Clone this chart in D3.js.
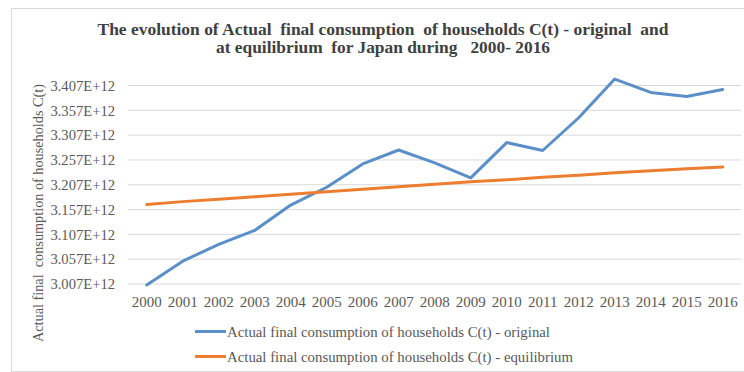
<!DOCTYPE html>
<html><head><meta charset="utf-8">
<script src="https://cdn.jsdelivr.net/npm/d3@7"></script>
<style>body{margin:0;background:#fff}svg{display:block}text{white-space:pre}</style>
</head><body>
<script>
const years = ["2000","2001","2002","2003","2004","2005","2006","2007","2008","2009","2010","2011","2012","2013","2014","2015","2016"];
const original = [3.005,3.053,3.087,3.115,3.166,3.202,3.249,3.277,3.251,3.221,3.292,3.276,3.342,3.420,3.393,3.385,3.399];
const equilibrium = [3.167,3.173,3.178,3.183,3.188,3.193,3.198,3.203,3.208,3.213,3.217,3.222,3.226,3.231,3.235,3.239,3.243];
const yTicks = [3.007,3.057,3.107,3.157,3.207,3.257,3.307,3.357,3.407];
const seriesNames = ["Actual final consumption of households C(t) - original","Actual final consumption of households C(t) - equilibrium"];
const colors = ["#5b8fc7","#ed7d31"];

const W=744,H=372;
const svg=d3.select("body").append("svg").attr("width",W).attr("height",H);
svg.append("rect").attr("x",11.5).attr("y",8.5).attr("width",W).attr("height",H-9).attr("fill","#fff").attr("stroke","#d9d9d9");

const serif="'Liberation Serif','Times New Roman',serif";
const title=svg.append("text").attr("text-anchor","middle").attr("font-family",serif).attr("font-weight","bold").attr("font-size",16).attr("fill","#404040");
title.append("tspan").attr("x",383).attr("y",35).attr("textLength",571).attr("lengthAdjust","spacingAndGlyphs")
 .text("The evolution of Actual  final consumption  of households C(t) - original  and");
title.append("tspan").attr("x",383).attr("y",53).attr("textLength",334).attr("lengthAdjust","spacingAndGlyphs")
 .text("at equilibrium  for Japan during   2000- 2016");

const x=d3.scaleBand().domain(years).range([128.7,740.7]);
const y=d3.scaleLinear().domain([3.007,3.407]).range([284,85.5]);

const grid=svg.append("g");
grid.selectAll("line").data(yTicks).join("line")
 .attr("x1",128).attr("x2",741).attr("y1",d=>y(d)).attr("y2",d=>y(d))
 .attr("stroke","#d9d9d9").attr("stroke-width",1);

const yAxis=svg.append("g").attr("transform","translate(128,0)")
 .call(d3.axisLeft(y).tickValues(yTicks).tickSize(0).tickPadding(13).tickFormat(d=>d3.format(".3f")(d)+"E+12"));
yAxis.select(".domain").remove();
yAxis.selectAll("text").attr("font-family",serif).attr("font-size",14.6).attr("fill","#595959");

const xAxis=svg.append("g").attr("transform","translate(0,284)")
 .call(d3.axisBottom(x).tickSize(0).tickPadding(12));
xAxis.select(".domain").remove();
xAxis.selectAll("text").attr("font-family",serif).attr("font-size",15).attr("fill","#595959");

svg.append("text").attr("transform","translate(43,213) rotate(-90)").attr("text-anchor","middle")
 .attr("font-family",serif).attr("font-size",14.2).attr("fill","#595959")
 .attr("textLength",258).attr("lengthAdjust","spacingAndGlyphs")
 .text("Actual final  consumption of households C(t)");

const line=d3.line().x((d,i)=>x(years[i])+x.bandwidth()/2).y(d=>y(d));
[original,equilibrium].forEach((s,k)=>{
 svg.append("path").datum(s).attr("d",line).attr("fill","none").attr("stroke",colors[k]).attr("stroke-width",3).attr("stroke-linejoin","round").attr("stroke-linecap","round");
});

const legLen=[323,346];
const leg=svg.append("g");
seriesNames.forEach((n,k)=>{
 const ly=331.5+k*25;
 leg.append("line").attr("x1",195).attr("x2",226).attr("y1",ly).attr("y2",ly).attr("stroke",colors[k]).attr("stroke-width",3);
 leg.append("text").attr("x",227).attr("y",ly+5).attr("font-family",serif).attr("font-size",14.5).attr("fill","#595959")
  .attr("textLength",legLen[k]).attr("lengthAdjust","spacingAndGlyphs").text(n);
});
</script>
</body></html>
